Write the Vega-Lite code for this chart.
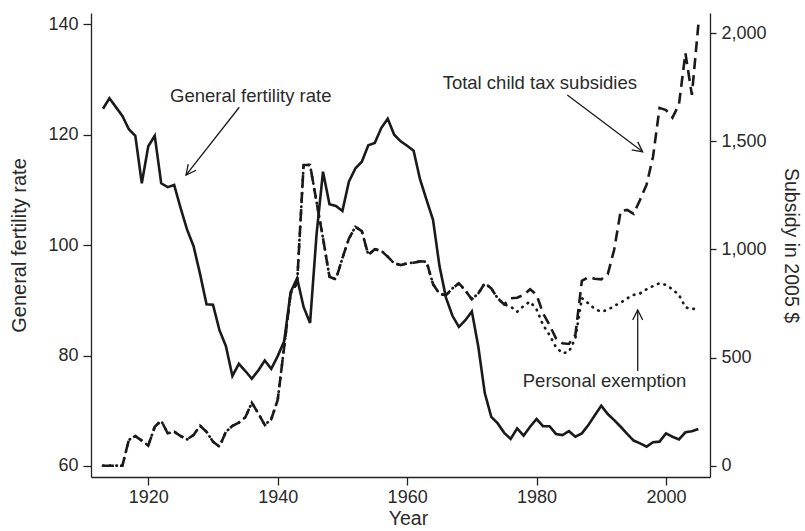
{
  "$schema": "https://vega.github.io/schema/vega-lite/v6.json",
  "width": 619,
  "height": 464,
  "autosize": {"type": "none"},
  "padding": {"left": 91, "top": 13, "right": 95, "bottom": 54},
  "background": "white",
  "config": {
    "view": {"stroke": null},
    "font": "Liberation Sans",
    "axis": {
      "grid": false,
      "domainColor": "#222222",
      "domainWidth": 1.3,
      "tickColor": "#222222",
      "tickWidth": 1.3,
      "labelColor": "#2a2a2a",
      "labelFont": "Liberation Sans",
      "labelFontSize": 18,
      "titleColor": "#2a2a2a",
      "titleFont": "Liberation Sans",
      "titleFontSize": 20,
      "titleFontWeight": "normal"
    }
  },
  "datasets": {
    "gfr": [
      {"year": 1913, "gfr": 124.7}, {"year": 1914, "gfr": 126.6}, {"year": 1915, "gfr": 125.0}, {"year": 1916, "gfr": 123.4},
      {"year": 1917, "gfr": 121.0}, {"year": 1918, "gfr": 119.8}, {"year": 1919, "gfr": 111.2}, {"year": 1920, "gfr": 117.9},
      {"year": 1921, "gfr": 119.8}, {"year": 1922, "gfr": 111.2}, {"year": 1923, "gfr": 110.5}, {"year": 1924, "gfr": 110.9},
      {"year": 1925, "gfr": 106.7}, {"year": 1926, "gfr": 102.8}, {"year": 1927, "gfr": 99.8}, {"year": 1928, "gfr": 94.8},
      {"year": 1929, "gfr": 89.3}, {"year": 1930, "gfr": 89.2}, {"year": 1931, "gfr": 84.6}, {"year": 1932, "gfr": 81.7},
      {"year": 1933, "gfr": 76.3}, {"year": 1934, "gfr": 78.5}, {"year": 1935, "gfr": 77.2}, {"year": 1936, "gfr": 75.8},
      {"year": 1937, "gfr": 77.3}, {"year": 1938, "gfr": 79.1}, {"year": 1939, "gfr": 77.6}, {"year": 1940, "gfr": 79.9},
      {"year": 1941, "gfr": 82.6}, {"year": 1942, "gfr": 91.5}, {"year": 1943, "gfr": 94.0}, {"year": 1944, "gfr": 88.8},
      {"year": 1945, "gfr": 85.9}, {"year": 1946, "gfr": 101.9}, {"year": 1947, "gfr": 113.3}, {"year": 1948, "gfr": 107.4},
      {"year": 1949, "gfr": 107.1}, {"year": 1950, "gfr": 106.2}, {"year": 1951, "gfr": 111.5}, {"year": 1952, "gfr": 113.9},
      {"year": 1953, "gfr": 115.1}, {"year": 1954, "gfr": 118.1}, {"year": 1955, "gfr": 118.5}, {"year": 1956, "gfr": 121.2},
      {"year": 1957, "gfr": 122.9}, {"year": 1958, "gfr": 120.0}, {"year": 1959, "gfr": 118.8}, {"year": 1960, "gfr": 118.0},
      {"year": 1961, "gfr": 117.1}, {"year": 1962, "gfr": 111.9}, {"year": 1963, "gfr": 108.2}, {"year": 1964, "gfr": 104.6},
      {"year": 1965, "gfr": 96.2}, {"year": 1966, "gfr": 90.5}, {"year": 1967, "gfr": 87.2}, {"year": 1968, "gfr": 85.2},
      {"year": 1969, "gfr": 86.4}, {"year": 1970, "gfr": 88.0}, {"year": 1971, "gfr": 81.6}, {"year": 1972, "gfr": 73.2},
      {"year": 1973, "gfr": 68.9}, {"year": 1974, "gfr": 67.7}, {"year": 1975, "gfr": 66.0}, {"year": 1976, "gfr": 64.9},
      {"year": 1977, "gfr": 66.8}, {"year": 1978, "gfr": 65.5}, {"year": 1979, "gfr": 67.1}, {"year": 1980, "gfr": 68.5},
      {"year": 1981, "gfr": 67.2}, {"year": 1982, "gfr": 67.2}, {"year": 1983, "gfr": 65.8}, {"year": 1984, "gfr": 65.6},
      {"year": 1985, "gfr": 66.3}, {"year": 1986, "gfr": 65.3}, {"year": 1987, "gfr": 65.9}, {"year": 1988, "gfr": 67.4},
      {"year": 1989, "gfr": 69.2}, {"year": 1990, "gfr": 70.9}, {"year": 1991, "gfr": 69.4}, {"year": 1992, "gfr": 68.3},
      {"year": 1993, "gfr": 67.1}, {"year": 1994, "gfr": 65.8}, {"year": 1995, "gfr": 64.6}, {"year": 1996, "gfr": 64.1},
      {"year": 1997, "gfr": 63.5}, {"year": 1998, "gfr": 64.3}, {"year": 1999, "gfr": 64.4}, {"year": 2000, "gfr": 65.9},
      {"year": 2001, "gfr": 65.3}, {"year": 2002, "gfr": 64.8}, {"year": 2003, "gfr": 66.1}, {"year": 2004, "gfr": 66.3},
      {"year": 2005, "gfr": 66.7}
    ],
    "total": [
      {"year": 1913, "value": 0}, {"year": 1914, "value": 0}, {"year": 1915, "value": 0}, {"year": 1916, "value": 0},
      {"year": 1917, "value": 119}, {"year": 1918, "value": 137}, {"year": 1919, "value": 116}, {"year": 1920, "value": 93},
      {"year": 1921, "value": 180}, {"year": 1922, "value": 208}, {"year": 1923, "value": 150}, {"year": 1924, "value": 157},
      {"year": 1925, "value": 137}, {"year": 1926, "value": 122}, {"year": 1927, "value": 142}, {"year": 1928, "value": 185},
      {"year": 1929, "value": 157}, {"year": 1930, "value": 111}, {"year": 1931, "value": 88}, {"year": 1932, "value": 157},
      {"year": 1933, "value": 184}, {"year": 1934, "value": 199}, {"year": 1935, "value": 224}, {"year": 1936, "value": 291},
      {"year": 1937, "value": 242}, {"year": 1938, "value": 188}, {"year": 1939, "value": 215}, {"year": 1940, "value": 304},
      {"year": 1941, "value": 550}, {"year": 1942, "value": 797}, {"year": 1943, "value": 845}, {"year": 1944, "value": 1391},
      {"year": 1945, "value": 1391}, {"year": 1946, "value": 1221}, {"year": 1947, "value": 1052}, {"year": 1948, "value": 874},
      {"year": 1949, "value": 862}, {"year": 1950, "value": 960}, {"year": 1951, "value": 1050}, {"year": 1952, "value": 1105},
      {"year": 1953, "value": 1085}, {"year": 1954, "value": 975}, {"year": 1955, "value": 1001}, {"year": 1956, "value": 994},
      {"year": 1957, "value": 967}, {"year": 1958, "value": 936}, {"year": 1959, "value": 928}, {"year": 1960, "value": 936},
      {"year": 1961, "value": 939}, {"year": 1962, "value": 945}, {"year": 1963, "value": 944}, {"year": 1964, "value": 840},
      {"year": 1965, "value": 795}, {"year": 1966, "value": 788}, {"year": 1967, "value": 820}, {"year": 1968, "value": 844},
      {"year": 1969, "value": 810}, {"year": 1970, "value": 770}, {"year": 1971, "value": 797}, {"year": 1972, "value": 844},
      {"year": 1973, "value": 820}, {"year": 1974, "value": 774}, {"year": 1975, "value": 746}, {"year": 1976, "value": 774},
      {"year": 1977, "value": 777}, {"year": 1978, "value": 790}, {"year": 1979, "value": 816}, {"year": 1980, "value": 790},
      {"year": 1981, "value": 705}, {"year": 1982, "value": 651}, {"year": 1983, "value": 589}, {"year": 1984, "value": 566},
      {"year": 1985, "value": 563}, {"year": 1986, "value": 605}, {"year": 1987, "value": 855}, {"year": 1988, "value": 872},
      {"year": 1989, "value": 865}, {"year": 1990, "value": 862}, {"year": 1991, "value": 885}, {"year": 1992, "value": 1000},
      {"year": 1993, "value": 1178}, {"year": 1994, "value": 1183}, {"year": 1995, "value": 1165}, {"year": 1996, "value": 1230},
      {"year": 1997, "value": 1300}, {"year": 1998, "value": 1430}, {"year": 1999, "value": 1655}, {"year": 2000, "value": 1645},
      {"year": 2001, "value": 1610}, {"year": 2002, "value": 1670}, {"year": 2003, "value": 1908}, {"year": 2004, "value": 1715},
      {"year": 2005, "value": 2040}
    ],
    "personal": [
      {"year": 1913, "value": 0}, {"year": 1914, "value": 0}, {"year": 1915, "value": 0}, {"year": 1916, "value": 0},
      {"year": 1917, "value": 119}, {"year": 1918, "value": 137}, {"year": 1919, "value": 116}, {"year": 1920, "value": 93},
      {"year": 1921, "value": 180}, {"year": 1922, "value": 208}, {"year": 1923, "value": 150}, {"year": 1924, "value": 157},
      {"year": 1925, "value": 137}, {"year": 1926, "value": 122}, {"year": 1927, "value": 142}, {"year": 1928, "value": 185},
      {"year": 1929, "value": 157}, {"year": 1930, "value": 111}, {"year": 1931, "value": 88}, {"year": 1932, "value": 157},
      {"year": 1933, "value": 184}, {"year": 1934, "value": 199}, {"year": 1935, "value": 224}, {"year": 1936, "value": 291},
      {"year": 1937, "value": 242}, {"year": 1938, "value": 188}, {"year": 1939, "value": 215}, {"year": 1940, "value": 304},
      {"year": 1941, "value": 550}, {"year": 1942, "value": 797}, {"year": 1943, "value": 845}, {"year": 1944, "value": 1391},
      {"year": 1945, "value": 1391}, {"year": 1946, "value": 1221}, {"year": 1947, "value": 1052}, {"year": 1948, "value": 874},
      {"year": 1949, "value": 862}, {"year": 1950, "value": 960}, {"year": 1951, "value": 1050}, {"year": 1952, "value": 1105},
      {"year": 1953, "value": 1085}, {"year": 1954, "value": 975}, {"year": 1955, "value": 1001}, {"year": 1956, "value": 994},
      {"year": 1957, "value": 967}, {"year": 1958, "value": 936}, {"year": 1959, "value": 928}, {"year": 1960, "value": 936},
      {"year": 1961, "value": 939}, {"year": 1962, "value": 945}, {"year": 1963, "value": 944}, {"year": 1964, "value": 840},
      {"year": 1965, "value": 795}, {"year": 1966, "value": 788}, {"year": 1967, "value": 820}, {"year": 1968, "value": 844},
      {"year": 1969, "value": 810}, {"year": 1970, "value": 770}, {"year": 1971, "value": 797}, {"year": 1972, "value": 844},
      {"year": 1973, "value": 820}, {"year": 1974, "value": 774}, {"year": 1975, "value": 746}, {"year": 1976, "value": 736},
      {"year": 1977, "value": 712}, {"year": 1978, "value": 739}, {"year": 1979, "value": 759}, {"year": 1980, "value": 723},
      {"year": 1981, "value": 651}, {"year": 1982, "value": 605}, {"year": 1983, "value": 548}, {"year": 1984, "value": 520},
      {"year": 1985, "value": 527}, {"year": 1986, "value": 589}, {"year": 1987, "value": 775}, {"year": 1988, "value": 751},
      {"year": 1989, "value": 725}, {"year": 1990, "value": 712}, {"year": 1991, "value": 721}, {"year": 1992, "value": 739},
      {"year": 1993, "value": 754}, {"year": 1994, "value": 774}, {"year": 1995, "value": 790}, {"year": 1996, "value": 797},
      {"year": 1997, "value": 816}, {"year": 1998, "value": 831}, {"year": 1999, "value": 844}, {"year": 2000, "value": 836},
      {"year": 2001, "value": 816}, {"year": 2002, "value": 790}, {"year": 2003, "value": 733}, {"year": 2004, "value": 723},
      {"year": 2005, "value": 733}
    ],
    "notes": [
      {"label": "General fertility rate", "tx": 1935.84, "ty": 125.88, "x1": 1934.06, "y1": 124.98, "x2": 1925.83, "y2": 112.7},
      {"label": "Total child tax subsidies", "tx": 1980.5, "ty": 128.2, "x1": 1984.75, "y1": 127.2, "x2": 1996.4, "y2": 116.9},
      {"label": "Personal exemption", "tx": 1990.5, "ty": 74.25, "x1": 1995.63, "y1": 77.2, "x2": 1995.63, "y2": 88.26}
    ]
  },
  "layer": [
    {
      "layer": [
        {
          "data": {"name": "gfr"},
          "mark": {"type": "line", "color": "#1a1a1a", "strokeWidth": 2.6, "strokeJoin": "miter"},
          "encoding": {
            "x": {
              "field": "year", "type": "quantitative", "title": "Year",
              "scale": {"domain": [1911.15, 2006.8], "nice": false, "zero": false},
              "axis": {"values": [1920, 1940, 1960, 1980, 2000], "format": "d", "tickSize": 8, "labelPadding": 3, "titlePadding": 3, "titleFontSize": 19.5, "titleX": 317}
            },
            "y": {
              "field": "gfr", "type": "quantitative", "title": "General fertility rate",
              "scale": {"domain": [58.0, 142.05], "nice": false, "zero": false},
              "axis": {"orient": "left", "values": [60, 80, 100, 120, 140], "tickSize": 8, "labelPadding": 5, "titlePadding": 18}
            }
          }
        },
        {
          "data": {"name": "notes"},
          "mark": {"type": "rule", "color": "#1a1a1a", "strokeWidth": 1.3},
          "encoding": {
            "x": {"field": "x1", "type": "quantitative", "title": "Year", "scale": {"domain": [1911.15, 2006.8], "nice": false, "zero": false}},
            "y": {"field": "y1", "type": "quantitative", "title": "General fertility rate", "scale": {"domain": [58.0, 142.05], "nice": false, "zero": false}},
            "x2": {"field": "x2"},
            "y2": {"field": "y2"}
          }
        },
        {
          "data": {"name": "notes"},
          "mark": {"type": "text", "align": "center", "baseline": "alphabetic", "fontSize": 18.5, "font": "Liberation Sans", "color": "#2a2a2a"},
          "encoding": {
            "x": {"field": "tx", "type": "quantitative", "title": "Year", "scale": {"domain": [1911.15, 2006.8], "nice": false, "zero": false}},
            "y": {"field": "ty", "type": "quantitative", "title": "General fertility rate", "scale": {"domain": [58.0, 142.05], "nice": false, "zero": false}},
            "text": {"field": "label"}
          }
        },
        {
          "data": {"name": "notes"},
          "transform": [{"filter": "datum.label == 'General fertility rate'"}],
          "mark": {"type": "point", "shape": "M -1 -0.5 L 0 0 L -1 0.5", "size": 400, "filled": false, "strokeWidth": 1.3, "color": "#1a1a1a", "opacity": 1, "angle": 128.2},
          "encoding": {
            "x": {"field": "x2", "type": "quantitative", "title": "Year", "scale": {"domain": [1911.15, 2006.8], "nice": false, "zero": false}},
            "y": {"field": "y2", "type": "quantitative", "title": "General fertility rate", "scale": {"domain": [58.0, 142.05], "nice": false, "zero": false}}
          }
        },
        {
          "data": {"name": "notes"},
          "transform": [{"filter": "datum.label == 'Total child tax subsidies'"}],
          "mark": {"type": "point", "shape": "M -1 -0.5 L 0 0 L -1 0.5", "size": 400, "filled": false, "strokeWidth": 1.3, "color": "#1a1a1a", "opacity": 1, "angle": 36.9},
          "encoding": {
            "x": {"field": "x2", "type": "quantitative", "title": "Year", "scale": {"domain": [1911.15, 2006.8], "nice": false, "zero": false}},
            "y": {"field": "y2", "type": "quantitative", "title": "General fertility rate", "scale": {"domain": [58.0, 142.05], "nice": false, "zero": false}}
          }
        },
        {
          "data": {"name": "notes"},
          "transform": [{"filter": "datum.label == 'Personal exemption'"}],
          "mark": {"type": "point", "shape": "M -1 -0.5 L 0 0 L -1 0.5", "size": 400, "filled": false, "strokeWidth": 1.3, "color": "#1a1a1a", "opacity": 1, "angle": 270},
          "encoding": {
            "x": {"field": "x2", "type": "quantitative", "title": "Year", "scale": {"domain": [1911.15, 2006.8], "nice": false, "zero": false}},
            "y": {"field": "y2", "type": "quantitative", "title": "General fertility rate", "scale": {"domain": [58.0, 142.05], "nice": false, "zero": false}}
          }
        }
      ]
    },
    {
      "layer": [
        {
          "data": {"name": "total"},
          "mark": {"type": "line", "color": "#1a1a1a", "strokeWidth": 2.6, "strokeDash": [11, 6], "strokeCap": "butt"},
          "encoding": {
            "x": {"field": "year", "type": "quantitative", "title": "Year", "scale": {"domain": [1911.15, 2006.8], "nice": false, "zero": false}},
            "y": {
              "field": "value", "type": "quantitative", "title": "Subsidy in 2005 $",
              "scale": {"domain": [-52.3, 2093.9], "nice": false, "zero": false},
              "axis": {"orient": "right", "values": [0, 500, 1000, 1500, 2000], "format": ",d", "tickSize": 6, "labelPadding": 5, "titlePadding": 14, "titleFontSize": 19.5}
            }
          }
        },
        {
          "data": {"name": "personal"},
          "mark": {"type": "line", "color": "#1a1a1a", "strokeWidth": 2.7, "strokeDash": [0.5, 6.2], "strokeCap": "round"},
          "encoding": {
            "x": {"field": "year", "type": "quantitative", "title": "Year", "scale": {"domain": [1911.15, 2006.8], "nice": false, "zero": false}},
            "y": {"field": "value", "type": "quantitative", "title": "Subsidy in 2005 $", "scale": {"domain": [-52.3, 2093.9], "nice": false, "zero": false}}
          }
        }
      ]
    }
  ],
  "resolve": {"scale": {"y": "independent"}}
}
